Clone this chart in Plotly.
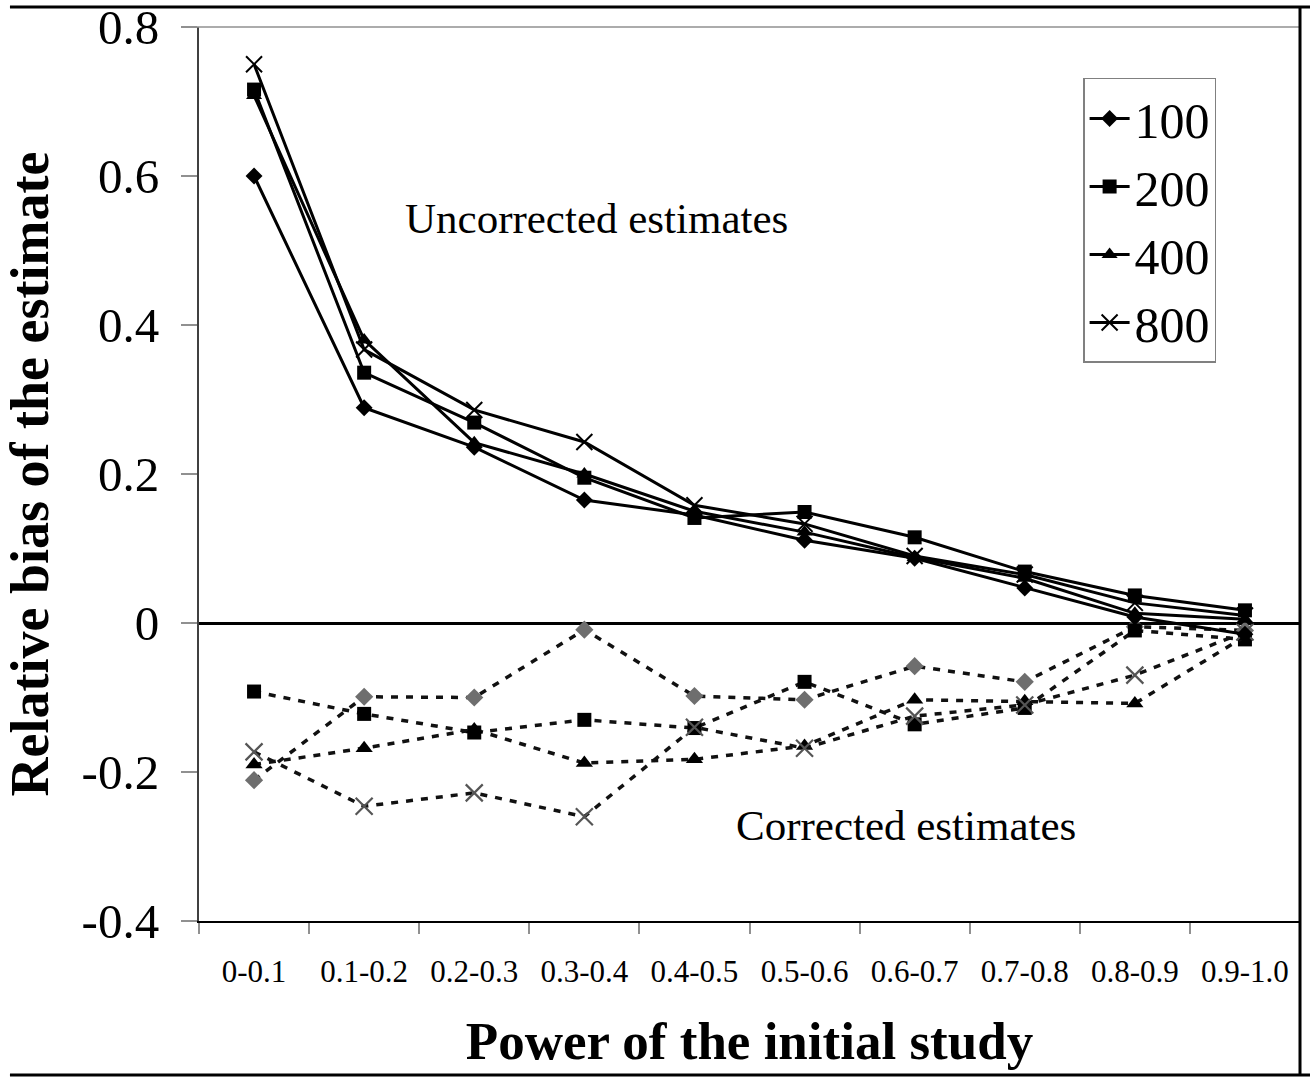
import plotly.graph_objects as go

categories = ["0-0.1", "0.1-0.2", "0.2-0.3", "0.3-0.4", "0.4-0.5",
              "0.5-0.6", "0.6-0.7", "0.7-0.8", "0.8-0.9", "0.9-1.0"]
series_names = ["100", "200", "400", "800"]

unc_100 = [0.600, 0.289, 0.236, 0.165, 0.145, 0.111, 0.087, 0.047, 0.008, -0.015]
unc_200 = [0.716, 0.336, 0.269, 0.195, 0.141, 0.149, 0.115, 0.069, 0.037, 0.017]
unc_400 = [0.708, 0.380, 0.242, 0.200, 0.150, 0.122, 0.088, 0.060, 0.013, 0.005]
unc_800 = [0.750, 0.367, 0.286, 0.243, 0.158, 0.133, 0.090, 0.065, 0.027, 0.010]

cor_100 = [-0.211, -0.099, -0.100, -0.009, -0.098, -0.103, -0.058, -0.079, -0.005, -0.010]
cor_200 = [-0.092, -0.122, -0.147, -0.130, -0.141, -0.079, -0.136, -0.114, -0.010, -0.022]
cor_400 = [-0.190, -0.168, -0.143, -0.188, -0.183, -0.165, -0.103, -0.105, -0.108, -0.018]
cor_800 = [-0.173, -0.246, -0.228, -0.260, -0.140, -0.168, -0.125, -0.110, -0.070, -0.012]

FONT = "Liberation Serif, Times New Roman, serif"

uncorrected = [unc_100, unc_200, unc_400, unc_800]
corrected = [cor_100, cor_200, cor_400, cor_800]
unc_markers = [
    dict(symbol="diamond", size=13, color="black"),
    dict(symbol="square", size=14, color="black"),
    dict(symbol="triangle-up", size=14, color="black"),
    dict(symbol="x-thin-open", size=16, color="black", line=dict(width=2, color="black")),
]
cor_markers = [
    dict(symbol="diamond", size=14, color="#6e6e6e"),
    dict(symbol="square", size=14, color="black"),
    dict(symbol="triangle-up", size=15, color="black"),
    dict(symbol="x-thin-open", size=17, color="#555555", line=dict(width=2.2, color="#555555")),
]

fig = go.Figure()
for name, ys, mk in zip(series_names, corrected, cor_markers):
    fig.add_trace(go.Scatter(
        x=categories, y=ys, mode="lines+markers", name=name, showlegend=False,
        line=dict(color="#111111", width=3.5, dash="7px,8px"), marker=mk))
for name, ys, mk in zip(series_names, uncorrected, unc_markers):
    fig.add_trace(go.Scatter(
        x=categories, y=ys, mode="lines+markers", name=name,
        line=dict(color="black", width=3), marker=mk))

fig.update_layout(
    width=1310, height=1082,
    margin=dict(l=199, r=10, t=27, b=161),
    paper_bgcolor="white", plot_bgcolor="white",
    font=dict(family=FONT, color="black"),
    showlegend=True,
    legend=dict(
        x=0.803, y=0.943, xanchor="left", yanchor="top",
        bordercolor="#808080", borderwidth=1.5, bgcolor="white",
        font=dict(family=FONT, size=50, color="black"),
        itemwidth=40, tracegroupgap=0,
    ),
    xaxis=dict(
        type="category", range=[-0.5, 9.5], tickson="boundaries", automargin=False,
        ticks="outside", ticklen=11, tickcolor="#909090", tickwidth=1.5,
        showline=True, linecolor="black", linewidth=2,
        showgrid=False, zeroline=False,
        tickfont=dict(family=FONT, size=31, color="black"),
        ticklabelstandoff=22,
        title=dict(text="<b>Power of the initial study</b>",
                   font=dict(family=FONT, size=53, color="black"), standoff=34),
    ),
    yaxis=dict(
        range=[-0.4, 0.8], tickvals=[-0.4, -0.2, 0, 0.2, 0.4, 0.6, 0.8], automargin=False,
        ticktext=["-0.4", "-0.2", "0", "0.2", "0.4", "0.6", "0.8"],
        ticks="outside", ticklen=16, tickcolor="#909090", tickwidth=1.5,
        showline=True, linecolor="#404040", linewidth=2,
        showgrid=False, zeroline=True, zerolinecolor="black", zerolinewidth=2.5,
        tickfont=dict(family=FONT, size=49, color="black"),
        ticklabelstandoff=12, ticklabeloverflow="allow",
        title=dict(text="<b>Relative bias of the estimate</b>",
                   font=dict(family=FONT, size=54, color="black"), standoff=26),
    ),
    annotations=[
        dict(text="Uncorrected estimates", xref="paper", yref="paper",
             x=0.3606, y=0.786, xanchor="center", yanchor="middle", showarrow=False,
             font=dict(family=FONT, size=43, color="black")),
        dict(text="Corrected estimates", xref="paper", yref="paper",
             x=0.642, y=0.107, xanchor="center", yanchor="middle", showarrow=False,
             font=dict(family=FONT, size=43, color="black")),
    ],
    shapes=[
        dict(type="line", xref="paper", yref="paper", x0=-0.0145, x1=1.0, y0=1.0, y1=1.0,
             line=dict(color="#909090", width=1.5)),
        dict(type="line", xref="paper", yref="paper", x0=-0.1717, x1=1.01, y0=1.0224, y1=1.0224,
             line=dict(color="black", width=3)),
        dict(type="line", xref="paper", yref="paper", x0=1.0, x1=1.0, y0=-0.1723, y1=1.0224,
             line=dict(color="black", width=3)),
        dict(type="line", xref="paper", yref="paper", x0=-0.1717, x1=1.01, y0=-0.1723, y1=-0.1723,
             line=dict(color="black", width=3)),
    ],
)

fig.write_html("out.html")
